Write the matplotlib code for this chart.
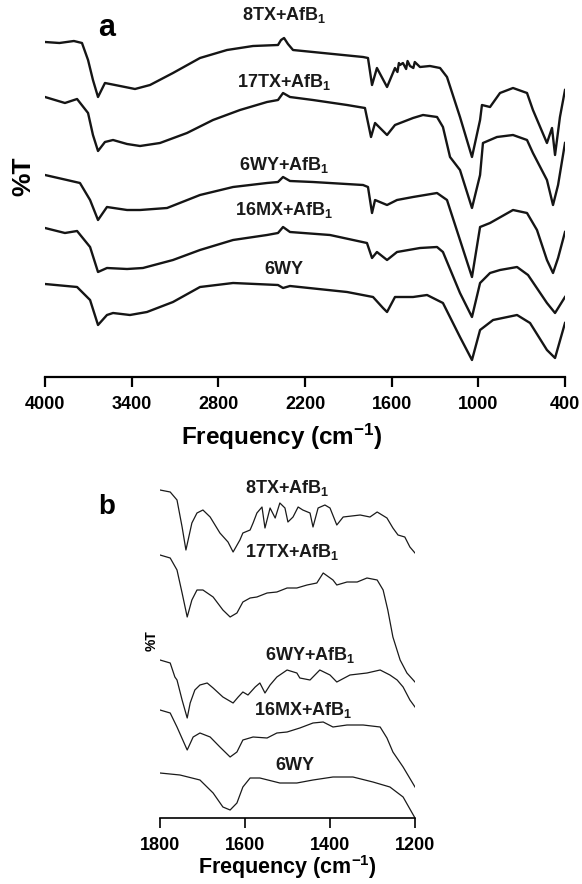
import matplotlib
matplotlib.use("Agg")
import matplotlib.pyplot as plt

plt.rcParams['font.family'] = ['Liberation Sans', 'DejaVu Sans']
plt.rcParams['mathtext.fontset'] = 'custom'
plt.rcParams['mathtext.rm'] = 'Liberation Sans:bold'
plt.rcParams['mathtext.default'] = 'rm'

names = ['8TX+AfB$_1$', '17TX+AfB$_1$', '6WY+AfB$_1$', '16MX+AfB$_1$', '6WY']

# panel a: full spectra, wavenumber (cm-1) and stacked %T (arbitrary units)
a_8tx_x = [4000, 3900, 3800, 3744, 3702, 3668, 3633, 3585, 3515, 3446, 3377, 3273, 3114, 2927, 2740, 2560,
           2387, 2366, 2345, 2318, 2283, 2145, 1798, 1764, 1736, 1702, 1632, 1577, 1560, 1550,
           1542, 1522, 1500, 1490, 1473, 1450, 1440, 1404, 1335, 1265, 1217, 1127, 1044, 988,
           975, 919, 850, 760, 663, 622, 525, 490, 469, 435, 400]
a_8tx_y = [335, 334, 336, 334, 317, 297, 280, 294, 292, 290, 288, 292, 304, 319, 327, 331,
           332, 337, 339, 333, 327, 325, 320, 319, 292, 309, 290, 309, 305, 314,
           312, 314, 308, 316, 311, 309, 315, 310, 311, 309, 300, 260, 220, 257,
           272, 270, 284, 289, 284, 267, 234, 249, 222, 260, 287]

a_17tx_x = [4000, 3862, 3778, 3702, 3668, 3633, 3585, 3529, 3432, 3342, 3204, 3017, 2837, 2650,
            2463, 2387, 2352, 2304, 2145, 1909, 1785, 1743, 1715, 1632, 1577, 1452, 1383, 1286,
            1245, 1196, 1127, 1044, 988, 968, 871, 760, 663, 622, 525, 483, 448, 400]
a_17tx_y = [280, 274, 278, 264, 242, 226, 235, 237, 233, 231, 234, 244, 257, 267,
            275, 277, 284, 280, 277, 272, 269, 240, 254, 242, 252, 259, 262, 260,
            250, 220, 207, 169, 202, 234, 240, 242, 237, 224, 197, 172, 192, 234]

a_6wyb_x = [4000, 3848, 3758, 3688, 3633, 3571, 3432, 3342, 3155, 2927, 2698, 2463, 2387, 2352,
            2304, 2145, 1798, 1764, 1736, 1715, 1632, 1563, 1452, 1286, 1217, 1127, 1044, 988,
            919, 760, 663, 594, 525, 483, 448, 400]
a_6wyb_y = [202, 197, 194, 177, 157, 170, 167, 167, 169, 182, 190, 194, 195, 200,
            196, 195, 192, 190, 164, 177, 172, 177, 180, 184, 177, 137, 100, 150,
            154, 167, 164, 147, 117, 104, 119, 145]

a_16mx_x = [4000, 3862, 3778, 3688, 3633, 3571, 3432, 3322, 3114, 2927, 2698, 2463, 2387, 2352,
            2304, 2027, 1771, 1736, 1702, 1632, 1563, 1404, 1286, 1245, 1127, 1044, 988, 919,
            850, 732, 656, 525, 469, 400]
a_16mx_y = [149, 144, 146, 130, 105, 109, 108, 109, 117, 127, 137, 142, 144, 150,
            145, 142, 134, 119, 125, 117, 125, 129, 130, 125, 84, 60, 94, 104,
            107, 110, 102, 74, 64, 80]

a_6wy_x = [4000, 3778, 3688, 3633, 3571, 3529, 3412, 3294, 3114, 2927, 2698, 2387, 2352, 2304,
           1909, 1729, 1660, 1632, 1577, 1452, 1355, 1245, 1127, 1044, 988, 898, 732, 642,
           525, 469, 400]
a_6wy_y = [93, 90, 77, 52, 62, 64, 62, 65, 75, 90, 94, 92, 89, 91,
           85, 80, 69, 65, 80, 80, 82, 74, 40, 17, 47, 57, 62, 54,
           27, 19, 54]

# panel b: 1800-1200 cm-1 region
b_8tx_x = [1800, 1776, 1760, 1748, 1739, 1725, 1713, 1699, 1682, 1659, 1640, 1628, 1612, 1605,
           1588, 1581, 1572, 1560, 1553, 1541, 1529, 1518, 1506, 1499, 1487, 1475, 1464, 1447,
           1440, 1428, 1412, 1400, 1384, 1369, 1329, 1306, 1289, 1266, 1252, 1240, 1224, 1212, 1200]
b_8tx_y = [328, 326, 318, 291, 268, 295, 305, 308, 301, 285, 276, 266, 278, 285,
           288, 295, 305, 311, 290, 310, 300, 315, 310, 296, 301, 311, 308, 305,
           291, 310, 313, 310, 293, 301, 303, 301, 306, 300, 290, 283, 281, 271, 265]

b_17tx_x = [1800, 1776, 1760, 1748, 1736, 1725, 1713, 1699, 1675, 1652, 1635, 1619, 1605, 1588,
            1572, 1548, 1525, 1501, 1478, 1454, 1431, 1416, 1393, 1384, 1360, 1336, 1313, 1289,
            1275, 1264, 1252, 1235, 1219, 1200]
b_17tx_y = [263, 260, 248, 225, 201, 218, 228, 228, 221, 208, 201, 205, 216, 220,
            221, 225, 226, 230, 230, 233, 235, 245, 238, 233, 236, 236, 240, 238,
            228, 208, 181, 158, 145, 136]

b_6wyb_x = [1800, 1776, 1765, 1760, 1748, 1736, 1729, 1718, 1706, 1689, 1675, 1652, 1628, 1616,
            1605, 1593, 1576, 1565, 1553, 1541, 1525, 1501, 1478, 1471, 1447, 1424, 1400, 1384,
            1353, 1313, 1282, 1259, 1242, 1228, 1212, 1200]
b_6wyb_y = [158, 155, 141, 138, 118, 100, 115, 128, 133, 135, 130, 121, 115, 121,
            126, 123, 131, 135, 125, 133, 141, 148, 145, 140, 138, 148, 143, 136,
            143, 145, 148, 143, 138, 131, 118, 111]

b_16mx_x = [1800, 1776, 1760, 1736, 1722, 1706, 1682, 1659, 1635, 1619, 1605, 1581, 1548, 1525,
            1501, 1471, 1440, 1416, 1393, 1360, 1322, 1282, 1266, 1252, 1228, 1200]
b_16mx_y = [108, 105, 91, 68, 81, 85, 81, 71, 61, 66, 78, 81, 80, 85,
            86, 90, 95, 96, 91, 93, 93, 91, 80, 66, 51, 31]

b_6wy_x = [1800, 1753, 1706, 1675, 1652, 1635, 1619, 1605, 1588, 1565, 1518, 1478, 1440, 1393,
           1346, 1299, 1259, 1228, 1200]
b_6wy_y = [45, 43, 38, 25, 11, 8, 15, 31, 40, 40, 35, 35, 38, 41,
           41, 36, 31, 21, 0]

fig = plt.figure(figsize=(5.82, 8.84), dpi=100)

# ---- panel a
ax1 = fig.add_axes([45 / 582, 1 - 377 / 884, 520 / 582, 377 / 884])
for xs, ys in [(a_8tx_x, a_8tx_y), (a_17tx_x, a_17tx_y), (a_6wyb_x, a_6wyb_y),
               (a_16mx_x, a_16mx_y), (a_6wy_x, a_6wy_y)]:
    ax1.plot(xs, ys, color='#151515', lw=1.7)
ax1.set_xlim(4000, 400)
ax1.set_ylim(0, 377)
ax1.set_xticks([4000, 3400, 2800, 2200, 1600, 1000, 400])
ax1.set_yticks([])
for s in ['top', 'right', 'left']:
    ax1.spines[s].set_visible(False)
ax1.spines['bottom'].set_linewidth(1.6)
ax1.tick_params(axis='x', direction='out', length=7, width=1.6, labelsize=13, pad=7)
for lab in ax1.get_xticklabels():
    lab.set_fontweight('bold')
ax1.set_xlabel('Frequency (cm$^{-1}$)', fontsize=17.5, fontweight='bold')
ax1.xaxis.set_label_coords((282 - 45) / 520, -0.118)
for name, yy in zip(names, [362, 295, 212, 167, 108]):
    ax1.text(2345, yy, name, ha='center', va='center', fontsize=13, fontweight='bold', color='#1a1a1a')
fig.text(107 / 582, 1 - 28 / 884, 'a', fontsize=22, fontweight='bold', ha='center', va='center')
fig.text(23 / 582, 1 - 176 / 884, '%T', fontsize=19, fontweight='bold', rotation=90,
         ha='center', va='center')

# ---- panel b
ax2 = fig.add_axes([160 / 582, 1 - 818 / 884, 255 / 582, 348 / 884])
for xs, ys in [(b_8tx_x, b_8tx_y), (b_17tx_x, b_17tx_y), (b_6wyb_x, b_6wyb_y),
               (b_16mx_x, b_16mx_y), (b_6wy_x, b_6wy_y)]:
    ax2.plot(xs, ys, color='#1a1a1a', lw=0.9)
ax2.set_xlim(1800, 1200)
ax2.set_ylim(0, 348)
ax2.set_xticks([1800, 1600, 1400, 1200])
ax2.set_yticks([])
for s in ['top', 'right', 'left']:
    ax2.spines[s].set_visible(False)
ax2.spines['bottom'].set_linewidth(1.2)
ax2.tick_params(axis='x', direction='out', length=7, width=1.2, labelsize=13, pad=7)
for lab in ax2.get_xticklabels():
    lab.set_fontweight('bold')
ax2.set_xlabel('Frequency (cm$^{-1}$)', fontsize=15.5, fontweight='bold')
ax2.xaxis.set_label_coords(0.5, -0.102)
for name, xx, yy in zip(names, [1501, 1489, 1447, 1464, 1482], [330, 266, 163, 108, 53]):
    ax2.text(xx, yy, name, ha='center', va='center', fontsize=13, fontweight='bold', color='#1a1a1a')
fig.text(107 / 582, 1 - 507 / 884, 'b', fontsize=20, fontweight='bold', ha='center', va='center')
fig.text(152 / 582, 1 - 641 / 884, '%T', fontsize=10, fontweight='bold', rotation=90,
         ha='center', va='center')

fig.savefig('out.png', dpi=100)
